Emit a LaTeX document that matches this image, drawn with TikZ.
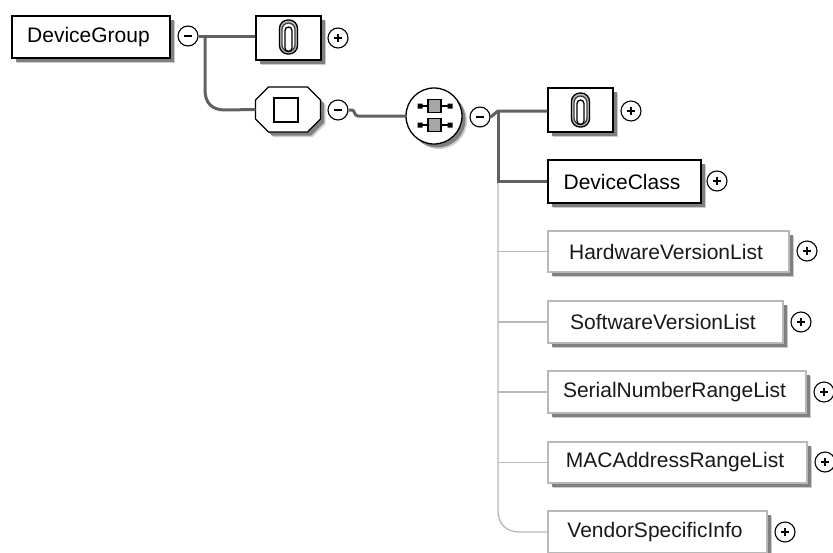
\documentclass[tikz,border=0pt]{standalone}
\usepackage{fontspec}
\setmainfont{Liberation Sans}
\usetikzlibrary{shadows,calc}
\colorlet{shA}{black!20}
\colorlet{shB}{black!50}
\tikzset{
  x=1pt,y=-1pt,
  shd/.style={drop shadow={shadow xshift=5pt,shadow yshift=-5pt,fill=shA,opacity=1},
              drop shadow={shadow xshift=3.5pt,shadow yshift=-3.5pt,fill=shB,opacity=1}},
  elem/.style={draw=black,line width=1.3pt,fill=white,shd,inner sep=0pt,font=\fontsize{21}{24}\selectfont},
  opt/.style={draw=black!28,line width=1.3pt,fill=white,shd,inner sep=0pt,font=\fontsize{21}{24}\selectfont,text=black!90},
  tog/.style={circle,draw=black,line width=1.1pt,fill=white,minimum size=20pt,inner sep=0pt},
  bold/.style={draw=black!62,line width=3pt},
  thin/.style={draw=black!28,line width=1.3pt},
}
\newcommand{\lbl}[1]{#1\hspace*{5pt}}
\newcommand{\togmark}[2]{% node name, 1 = plus
  \draw[black,line width=1.1pt] ($(#1)+(-4,0)$) -- ($(#1)+(4,0)$);
  \ifnum#2=1 \draw[black,line width=1.1pt] ($(#1)+(0,-4)$) -- ($(#1)+(0,4)$);\fi}
\newcommand{\clipicon}[1]{%
  \begin{scope}[shift={(#1)}]
    \draw[black!25,line width=3.2pt,rounded corners=7.5pt] (-8,-15.5) rectangle (8,15.5);
    \draw[black,line width=1.3pt,rounded corners=8.5pt] (-9,-17) rectangle (9,17);
    \draw[black!75,line width=1.3pt,rounded corners=6.5pt] (-6.5,-14) rectangle (6.5,14.5);
    \draw[black,line width=1.3pt,rounded corners=3.5pt] (-3.5,-10) rectangle (3.5,14.5);
  \end{scope}}
\begin{document}
\begin{tikzpicture}
\useasboundingbox (0,0) rectangle (833,552);
\clip (0,0) rectangle (833,552);
\fill[white] (0,0) rectangle (833,552);
% nodes
\node[elem,minimum width=158pt,minimum height=42pt] (dg) at (91,37) {\lbl{DeviceGroup}};
\node[tog] (m1) at (188,36) {};
\node[elem,minimum width=65pt,minimum height=44pt] (any1) at (288.5,38) {};
\node[tog] (p1) at (338,38) {};
\node[minimum width=65pt,minimum height=45pt,inner sep=0pt,outer sep=0pt] (ch) at (288,109.5) {};
\draw[draw=black,line width=1.3pt,fill=white,shd]
  ($(ch.north west)+(13,0)$) -- ($(ch.north east)+(-13,0)$) -- ($(ch.north east)+(0,13)$)
  -- ($(ch.south east)+(0,-13)$) -- ($(ch.south east)+(-13,0)$) -- ($(ch.south west)+(13,0)$)
  -- ($(ch.south west)+(0,-13)$) -- ($(ch.north west)+(0,13)$) -- cycle;
\node[draw=black,line width=1.2pt,minimum size=24pt,inner sep=0pt] (sq) at (286,110) {};
\node[tog] (m2) at (338,110) {};
\node[circle,elem,minimum size=56pt] (seq) at (434,116) {};
\node[tog] (m3) at (480,117) {};
\node[elem,minimum width=65pt,minimum height=44pt] (any2) at (580.5,110) {};
\node[tog] (p2) at (631,111) {};
\node[elem,minimum width=153pt,minimum height=43pt] (dc) at (624.5,181.5) {\lbl{DeviceClass}};
\node[tog] (p3) at (717,181) {};
\node[opt,minimum width=241pt,minimum height=41pt] (hw) at (668.5,251.5) {\lbl{HardwareVersionList}};
\node[tog] (p4) at (807,251) {};
\node[opt,minimum width=235pt,minimum height=42pt] (sw) at (665.5,322) {\lbl{SoftwareVersionList}};
\node[tog] (p5) at (801,322) {};
\node[opt,minimum width=258pt,minimum height=42pt] (sn) at (677,392) {\lbl{SerialNumberRangeList}};
\node[tog] (p6) at (824,392) {};
\node[opt,minimum width=259pt,minimum height=41pt] (mac) at (677.5,462.5) {\lbl{MACAddressRangeList}};
\node[tog] (p7) at (825,462) {};
\node[opt,minimum width=219pt,minimum height=42pt] (vs) at (657.5,532) {\lbl{VendorSpecificInfo}};
\node[tog] (p8) at (785,532) {};
\coordinate (t1) at (205,36);
\coordinate (t2) at (498,111);
% connectors
\draw[bold] (m1.east) -- (any1.west |- m1);
\draw[bold] (t1) -- (205,90) .. controls (205,103) and (212,110) .. (225,110) -- (ch.west);
\draw[bold] (m2.east) -- (352,110) .. controls (355,110) and (354,116) .. (358,116) -- (seq.west);
\draw[thin] (t2) -- (498,510) .. controls (498,524) and (506,532) .. (520,532) -- (vs.west);
\draw[thin] (498,251.5) -- (hw.west);
\draw[thin] (498,322) -- (sw.west);
\draw[thin] (498,392) -- (sn.west);
\draw[thin] (498,462.5) -- (mac.west);
\draw[bold] (m3.east) -- (t2) -- (any2.west |- t2);
\draw[bold] (t2) -- (498,181.5) -- (dc.west);
% toggles
\togmark{m1}{0}\togmark{m2}{0}\togmark{m3}{0}
\togmark{p1}{1}\togmark{p2}{1}\togmark{p3}{1}\togmark{p4}{1}\togmark{p5}{1}\togmark{p6}{1}\togmark{p7}{1}\togmark{p8}{1}
\clipicon{288.5,37}
\clipicon{580.5,110}
% sequence icon
\begin{scope}[shift={(seq.center)}]
  \foreach \yy in {-10,9}{
    \draw[black,line width=1.3pt] (-14,\yy) -- (15,\yy);
    \fill[black] (-16.5,\yy-2.5) rectangle (-11.5,\yy+2.5) (13.5,\yy-2.5) rectangle (18.5,\yy+2.5);
    \draw[black,line width=1.2pt,fill=black!35] (-6,\yy-6.5) rectangle (7,\yy+6.5);
  }
\end{scope}
\end{tikzpicture}
\end{document}
